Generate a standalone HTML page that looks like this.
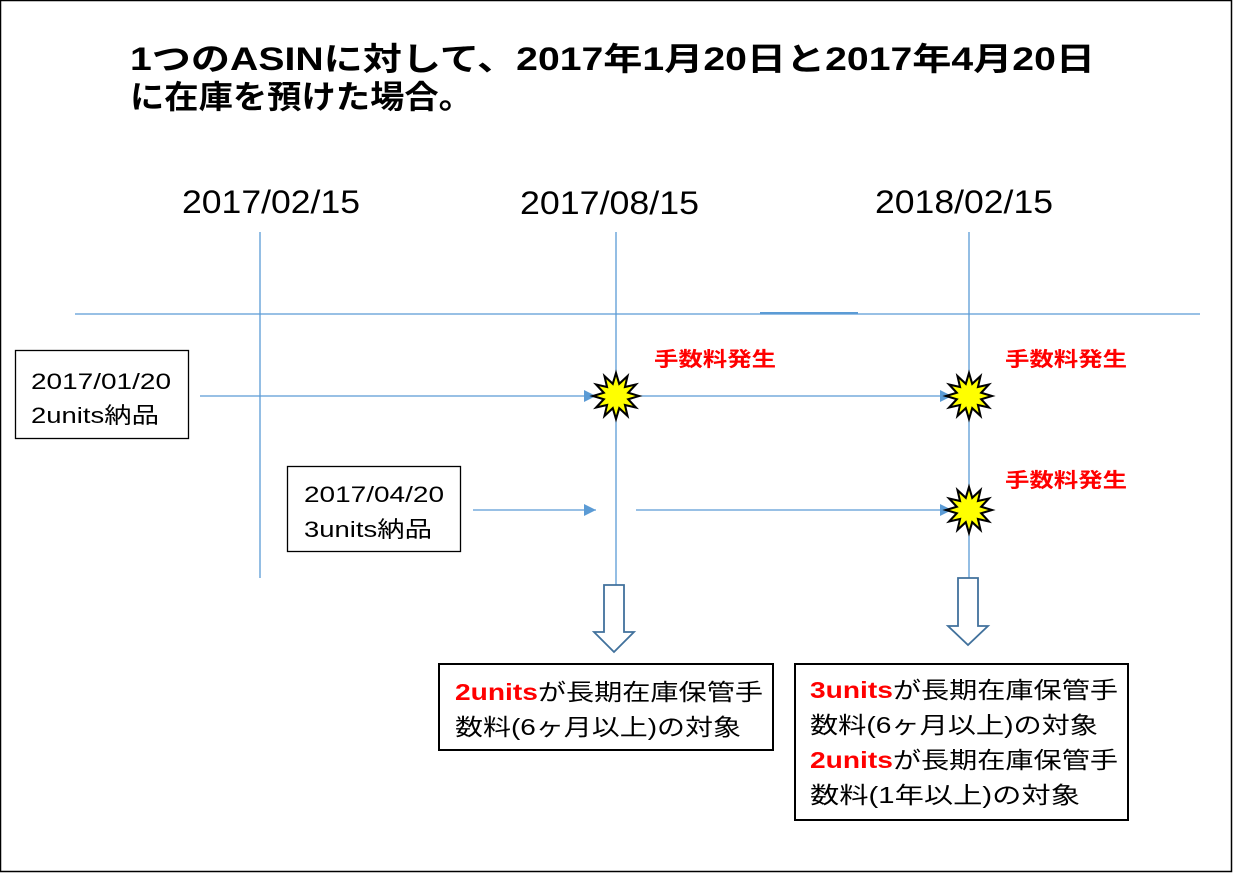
<!DOCTYPE html>
<html><head><meta charset="utf-8"><style>
html,body{margin:0;padding:0;background:#fff}
svg{display:block}
text{font-family:"Liberation Sans","Noto Sans CJK JP",sans-serif}
</style></head><body>
<svg width="1233" height="873" viewBox="0 0 1233 873" xmlns="http://www.w3.org/2000/svg">
<defs>
<marker id="ah" viewBox="0 0 10 10" refX="10" refY="5" markerWidth="12" markerHeight="12" markerUnits="userSpaceOnUse" orient="auto"><path d="M0,0 L10,5 L0,10 z" fill="#5b9bd5"/></marker>
<polygon id="star" points="20,0 10.6,2.8 17.3,10 7.8,7.8 10,17.3 2.8,10.6 0,20 -2.8,10.6 -10,17.3 -7.8,7.8 -17.3,10 -10.6,2.8 -20,0 -10.6,-2.8 -17.3,-10 -7.8,-7.8 -10,-17.3 -2.8,-10.6 0,-20 2.8,-10.6 10,-17.3 7.8,-7.8 17.3,-10 10.6,-2.8" fill="#ffff00" stroke="#000" stroke-width="1.8"/>
</defs>
<rect x="0.5" y="0.5" width="1231" height="871" fill="#fff" stroke="#000" stroke-width="1.5"/>
<g font-weight="bold" font-size="32" fill="#000">
<text x="130" y="70" textLength="965" lengthAdjust="spacingAndGlyphs">1つのASINに対して、2017年1月20日と2017年4月20日</text>
<text x="130" y="108" textLength="343" lengthAdjust="spacingAndGlyphs">に在庫を預けた場合。</text>
</g>
<g font-size="32" fill="#000">
<text x="182" y="213" textLength="178" lengthAdjust="spacingAndGlyphs">2017/02/15</text>
<text x="520" y="214" textLength="179" lengthAdjust="spacingAndGlyphs">2017/08/15</text>
<text x="875" y="213" textLength="178" lengthAdjust="spacingAndGlyphs">2018/02/15</text>
</g>
<g stroke="#5b9bd5" stroke-width="1.3" fill="none">
<line x1="260" y1="232" x2="260" y2="578"/>
<line x1="616" y1="232" x2="616" y2="585"/>
<line x1="969" y1="232" x2="969" y2="578"/>
<line x1="75" y1="314" x2="1200" y2="314"/>
<line x1="760" y1="313" x2="858" y2="313" stroke-width="2"/>
<line x1="200" y1="396" x2="596" y2="396" marker-end="url(#ah)"/>
<line x1="636" y1="396" x2="952" y2="396" marker-end="url(#ah)"/>
<line x1="473" y1="510" x2="596" y2="510" marker-end="url(#ah)"/>
<line x1="636" y1="510" x2="952" y2="510" marker-end="url(#ah)"/>
</g>
<g transform="translate(616,396) scale(1.15)"><use href="#star"/></g>
<g transform="translate(969,396) scale(1.15)"><use href="#star"/></g>
<g transform="translate(969,510) scale(1.15)"><use href="#star"/></g>
<g font-weight="bold" font-size="20" fill="#ff0000">
<text x="654" y="366" textLength="122" lengthAdjust="spacingAndGlyphs">手数料発生</text>
<text x="1005" y="366" textLength="122" lengthAdjust="spacingAndGlyphs">手数料発生</text>
<text x="1005" y="487" textLength="122" lengthAdjust="spacingAndGlyphs">手数料発生</text>
</g>
<g fill="#fff" stroke="#000" stroke-width="1.3">
<rect x="15.5" y="350.5" width="173" height="88"/>
<rect x="287.5" y="466.5" width="173" height="85"/>
</g>
<g font-size="22" fill="#000">
<text x="31" y="389" textLength="140" lengthAdjust="spacingAndGlyphs">2017/01/20</text>
<text x="31" y="423" textLength="128" lengthAdjust="spacingAndGlyphs">2units納品</text>
<text x="304" y="502" textLength="140" lengthAdjust="spacingAndGlyphs">2017/04/20</text>
<text x="304" y="537" textLength="128" lengthAdjust="spacingAndGlyphs">3units納品</text>
</g>
<g fill="#fff" stroke="#41719c" stroke-width="1.8">
<path d="M604,585 H624 V632 H634 L614,652 L594,632 H604 Z"/>
<path d="M958,578 H978 V626 H988 L968,645 L948,626 H958 Z"/>
</g>
<g fill="#fff" stroke="#000" stroke-width="2">
<rect x="439" y="664" width="334" height="86"/>
<rect x="795" y="664" width="333" height="156"/>
</g>
<g font-size="23" fill="#000">
<text x="455" y="700" textLength="308" lengthAdjust="spacingAndGlyphs"><tspan fill="#ff0000" font-weight="bold">2units</tspan>が長期在庫保管手</text>
<text x="455" y="735" textLength="286" lengthAdjust="spacingAndGlyphs">数料(6ヶ月以上)の対象</text>
<text x="810" y="698" textLength="308" lengthAdjust="spacingAndGlyphs"><tspan fill="#ff0000" font-weight="bold">3units</tspan>が長期在庫保管手</text>
<text x="810" y="733" textLength="288" lengthAdjust="spacingAndGlyphs">数料(6ヶ月以上)の対象</text>
<text x="810" y="768" textLength="308" lengthAdjust="spacingAndGlyphs"><tspan fill="#ff0000" font-weight="bold">2units</tspan>が長期在庫保管手</text>
<text x="810" y="803" textLength="270" lengthAdjust="spacingAndGlyphs">数料(1年以上)の対象</text>
</g>
</svg>
</body></html>
